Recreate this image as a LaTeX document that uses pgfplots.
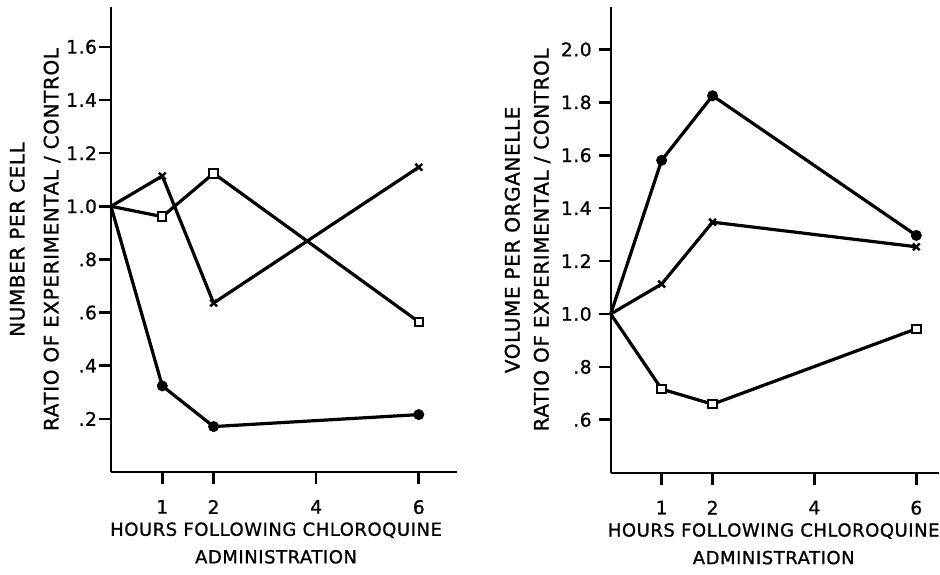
\documentclass[border=0pt]{standalone}
\usepackage{pgfplots}
\pgfplotsset{compat=1.18}
\usepackage{fontspec}
\setmainfont[LetterSpace=3,FakeBold=1]{DejaVu Sans}
\newcommand\xlab{\fontsize{9}{10.8}\selectfont}
\newcommand\ylab{\fontsize{10}{12}\selectfont}
\newcommand\tlab{\fontsize{9.3}{11}\selectfont}
\pgfplotsset{
  panel/.style={
    scale only axis,
    axis x line=bottom, axis y line=left,
    axis line style={-, line width=1pt},
    xtick style={draw=black, line width=1.3pt},
    ytick style={draw=black, line width=1.3pt},
    major tick length=6pt,
    tick align=outside,
    enlargelimits=false, clip=false,
    xmin=0, xtick={1,2,4,6}, xticklabels={1,2,4,6},
    ticklabel style={font=\tlab},
    xticklabel style={yshift=-4.5pt},
    xlabel style={font=\xlab, align=center, anchor=center},
    ylabel style={font=\ylab, align=center, anchor=center},
    every axis plot/.append style={line width=1.6pt, black, mark indices={2,3,4}},
  },
  dots/.style={mark=*, mark size=1.9pt},
  crosses/.style={mark=x, mark size=2.4pt, mark options={line width=1.2pt}},
  squares/.style={mark=square*, mark size=2.1pt, mark options={fill=white, line width=1pt}},
}
\begin{document}
\begin{tikzpicture}[x=1pt,y=1pt]
\begin{axis}[panel,
  at={(55.5pt,51pt)}, anchor=south west,
  width=173pt, height=232.5pt,
  xmax=6.745, ymin=0, ymax=1.75,
  ytick={0.2,0.4,0.6,0.8,1.0,1.2,1.4,1.6},
  yticklabels={.2,.4,.6,.8,1.0,1.2,1.4,1.6},
  yticklabel style={xshift=2.5pt},
  xlabel={HOURS FOLLOWING CHLOROQUINE\\[3pt]ADMINISTRATION},
  xlabel style={at={(axis description cs:0.477,-0.1527)}},
  ylabel={NUMBER PER CELL\\[5pt]RATIO OF EXPERIMENTAL / CONTROL},
  ylabel style={at={(axis description cs:-0.2197,0.5)}},
]
\addplot[dots] coordinates {(0,1.0) (1,0.324) (2,0.171) (6,0.216)};
\addplot[crosses] coordinates {(0,1.0) (1,1.114) (2,0.636) (6,1.147)};
\addplot[squares] coordinates {(0,1.0) (1,0.961) (2,1.124) (6,0.565)};
\end{axis}
\begin{axis}[panel,
  at={(305.35pt,50.65pt)}, anchor=south west,
  width=164pt, height=232.8pt,
  xmax=6.44, ymin=0.4, ymax=2.16,
  ytick={0.6,0.8,1.0,1.2,1.4,1.6,1.8,2.0},
  yticklabels={.6,.8,1.0,1.2,1.4,1.6,1.8,2.0},
  yticklabel style={xshift=0pt},
  xlabel={HOURS FOLLOWING CHLOROQUINE\\[3pt]ADMINISTRATION},
  xlabel style={at={(axis description cs:0.497,-0.1527)}},
  ylabel={VOLUME PER ORGANELLE\\[2.5pt]RATIO OF EXPERIMENTAL / CONTROL},
  ylabel style={at={(axis description cs:-0.2534,0.5)}},
]
\addplot[dots] coordinates {(0,1.0) (1,1.581) (2,1.825) (6,1.297)};
\addplot[crosses] coordinates {(0,1.0) (1,1.113) (2,1.347) (6,1.254)};
\addplot[squares] coordinates {(0,1.0) (1,0.716) (2,0.659) (6,0.944)};
\end{axis}
\pgfresetboundingbox
\useasboundingbox (0,0) rectangle (470,287);
\end{tikzpicture}
\end{document}
